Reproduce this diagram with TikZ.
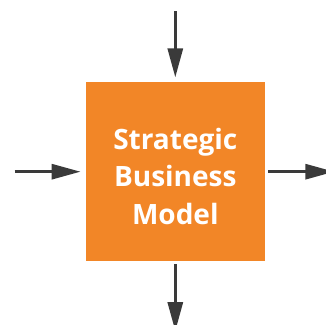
\documentclass[tikz,border=0pt]{standalone}
\usepackage{fontspec}
\setsansfont{Open Sans}
\usetikzlibrary{positioning,arrows.meta}
\definecolor{modelorange}{HTML}{F28627}
\definecolor{arrowgray}{HTML}{3A3A3A}
\tikzset{
  % the orange square, its title and the flows into and out of it
  model box/.style={rectangle,fill=modelorange,minimum size=179pt,inner sep=0},
  model title/.style={text=white,font=\sffamily\bfseries\fontsize{28}{37.5}\selectfont,align=center},
  flow arrow/.style={draw=arrowgray,line width=3pt,-{Triangle[length=29pt,width=15pt]}}
}
\begin{document}
\begin{tikzpicture}[x=1pt,y=1pt]
\clip (0,0) rectangle (326,324);
\node[model box] (model) at (175.3,152.3) {};
\node[model title,yshift=-4.5pt] (title) at (model.center) {Strategic\\Business\\Model};
\coordinate[above=70.6pt of model.north] (in top);
\coordinate[left=71pt of model.west] (in left);
\coordinate[right=69.3pt of model.east] (out right);
\coordinate[below=69.7pt of model.south] (out bottom);
% flows in
\draw[flow arrow,shorten >=4.6pt] (in top) -- (model.north);
\draw[flow arrow,shorten >=5pt] (in left) -- (model.west);
% flows out
\draw[flow arrow,shorten <=3pt] (model.east) -- (out right);
\draw[flow arrow,shorten <=3pt] (model.south) -- (out bottom);
\end{tikzpicture}
\end{document}
